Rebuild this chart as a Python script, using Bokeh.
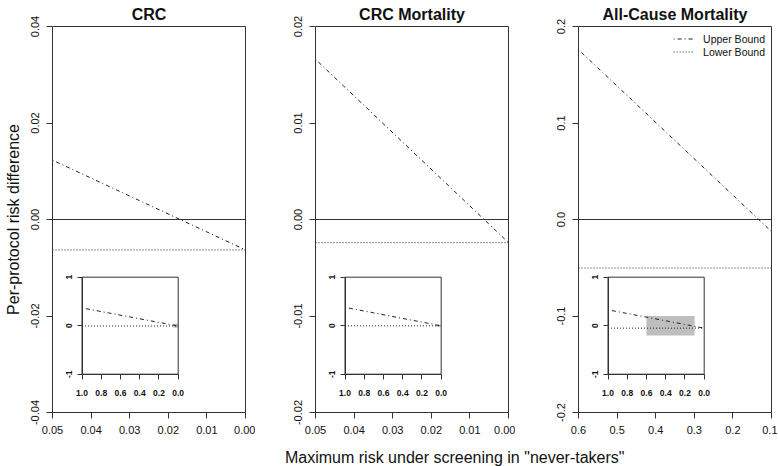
from bokeh.plotting import figure
from bokeh.models import (Range1d, LinearAxis, FixedTicker, NumeralTickFormatter,
                          Div, Legend, LegendItem, Span)
from bokeh.layouts import row, column
from bokeh.embed import file_html
from bokeh.resources import INLINE

# ---------------- data ----------------
panel_titles = ["CRC", "CRC Mortality", "All-Cause Mortality"]

x_limits = [[0.05, 0.0], [0.05, 0.0], [0.6, 0.1]]
y_limits = [[-0.04, 0.04], [-0.02, 0.02], [-0.2, 0.2]]

upper_x = [[0.05, 0.0], [0.05, 0.0], [0.6, 0.1]]
upper_y = [[0.0123, -0.0063], [0.0166, -0.0024], [0.176, -0.0125]]
lower_y = [-0.0063, -0.0024, -0.0503]

x_ticks = [[0.05, 0.04, 0.03, 0.02, 0.01, 0.0],
           [0.05, 0.04, 0.03, 0.02, 0.01, 0.0],
           [0.6, 0.5, 0.4, 0.3, 0.2, 0.1]]
x_tick_labels = [["0.05", "0.04", "0.03", "0.02", "0.01", "0.00"],
                 ["0.05", "0.04", "0.03", "0.02", "0.01", "0.00"],
                 ["0.6", "0.5", "0.4", "0.3", "0.2", "0.1"]]
y_ticks = [[-0.04, -0.02, 0.0, 0.02, 0.04],
           [-0.02, -0.01, 0.0, 0.01, 0.02],
           [-0.2, -0.1, 0.0, 0.1, 0.2]]
y_tick_labels = [["-0.04", "-0.02", "0.00", "0.02", "0.04"],
                 ["-0.02", "-0.01", "0.00", "0.01", "0.02"],
                 ["-0.2", "-0.1", "0.0", "0.1", "0.2"]]
tick_formats = ["0.00", "0.00", "0.0"]

# inset (full range view)
inset_x_limits = [1.0, 0.0]
inset_y_limits = [-1.0, 1.0]
inset_upper_x = [1.0, 0.0]
inset_upper_y = [[0.366, -0.0063], [0.378, -0.0024], [0.327, -0.0503]]
inset_x_ticks = [1.0, 0.8, 0.6, 0.4, 0.2, 0.0]
inset_x_tick_labels = ["1.0", "0.8", "0.6", "0.4", "0.2", "0.0"]
inset_y_ticks = [-1, 0, 1]
inset_y_tick_labels = ["-1", "0", "1"]
# zoom window shown in inset = main plot region
zoom_x = [[0.0, 0.05], [0.0, 0.05], [0.1, 0.6]]
zoom_y = y_limits

legend_labels = ["Upper Bound", "Lower Bound"]
x_title = 'Maximum risk under screening in "never-takers"'
y_title = "Per-protocol risk difference"

# ---------------- style / layout ----------------
FONT = "Liberation Sans"
INK = "#333333"
LINE_INK = "#222222"
FRAME_H = 386
frame_widths = [193, 193, 193]
border_left = [52, 60, 63]
border_right = [10, 7, 6]
INSET_LEFT, INSET_W = 29.5, 96.2      # px within frame
INSET_BOTTOM, INSET_H = 38.3, 97.0    # px from frame bottom
UPPER_DASH = "1 3 4 3"
LOWER_DASH = "1 2"


def extra_range(v0, v1, off, size, total):
    per = (v1 - v0) / size
    return Range1d(start=v0 - per * off, end=v0 + per * (total - off))


def style_axis(ax, fmt, ticks, labels, size, tick_out, standoff, bold=False):
    ax.ticker = FixedTicker(ticks=ticks)
    ax.formatter = NumeralTickFormatter(format=fmt)
    ax.major_label_overrides = {float(t): l for t, l in zip(ticks, labels)}
    ax.axis_line_color = INK
    ax.major_tick_line_color = INK
    ax.minor_tick_line_color = None
    ax.major_tick_in = 0
    ax.major_tick_out = tick_out
    ax.major_label_standoff = standoff
    ax.major_label_text_font = FONT
    ax.major_label_text_font_size = size
    ax.major_label_text_color = "#111111"
    if bold:
        ax.major_label_text_font_style = "bold"


figs = []
for i in range(3):
    fw = frame_widths[i]
    p = figure(frame_width=fw, frame_height=FRAME_H,
               x_range=Range1d(*x_limits[i]), y_range=Range1d(*y_limits[i]),
               output_backend="svg", toolbar_location=None,
               min_border_left=border_left[i], min_border_right=border_right[i],
               min_border_top=26, min_border_bottom=30)
    p.grid.visible = False
    p.outline_line_color = INK
    p.outline_line_width = 1
    p.background_fill_color = "white"
    p.border_fill_color = "white"

    p.title.text = panel_titles[i]
    p.title.align = "center"
    p.title.vertical_align = "top"
    p.title.text_font = FONT
    p.title.text_font_size = "16px"
    p.title.text_font_style = "bold"
    p.title.text_color = "#111111"
    p.title.standoff = 4

    style_axis(p.xaxis[0], tick_formats[i], x_ticks[i], x_tick_labels[i], "11px", 6, 7)
    style_axis(p.yaxis[0], tick_formats[i], y_ticks[i], y_tick_labels[i], "11px", 6, 8)
    p.yaxis[0].major_label_orientation = "vertical"
    if i == 0:
        p.yaxis[0].axis_label = y_title
        p.yaxis[0].axis_label_text_font = FONT
        p.yaxis[0].axis_label_text_font_size = "16px"
        p.yaxis[0].axis_label_text_font_style = "normal"
        p.yaxis[0].axis_label_text_color = "#111111"
        p.yaxis[0].axis_label_standoff = 6

    # zero reference line
    p.add_layout(Span(location=0, dimension="width", line_color=INK, line_width=1))

    # main bounds
    r_up = p.line(upper_x[i], upper_y[i], line_color=LINE_INK, line_width=1,
                  line_dash=UPPER_DASH)
    r_lo = p.line(x_limits[i], [lower_y[i], lower_y[i]], line_color=LINE_INK, line_width=1,
                  line_dash=LOWER_DASH)

    # inset ranges
    p.extra_x_ranges = {"ix": extra_range(inset_x_limits[0], inset_x_limits[1],
                                          INSET_LEFT, INSET_W, fw)}
    p.extra_y_ranges = {"iy": extra_range(inset_y_limits[0], inset_y_limits[1],
                                          INSET_BOTTOM, INSET_H, FRAME_H)}
    kw = dict(x_range_name="ix", y_range_name="iy")
    x0, x1 = inset_x_limits
    y0, y1 = inset_y_limits
    p.quad(left=min(x0, x1), right=max(x0, x1), bottom=y0, top=y1,
           fill_color="white", line_color=None, **kw)
    p.quad(left=zoom_x[i][0], right=zoom_x[i][1], bottom=zoom_y[i][0], top=zoom_y[i][1],
           fill_color="#bebebe", line_color=None, **kw)
    p.line(inset_upper_x, inset_upper_y[i], line_color=LINE_INK, line_width=1,
           line_dash=UPPER_DASH, **kw)
    p.line(list(inset_x_limits), [lower_y[i], lower_y[i]], line_color=LINE_INK, line_width=1,
           line_dash=LOWER_DASH, **kw)
    # inset box
    p.line([x0, x1, x1, x0, x0], [y0, y0, y1, y1, y0], line_color=INK, line_width=1, **kw)

    ax_ix = LinearAxis(x_range_name="ix", y_range_name="iy",
                       fixed_location=y0, bounds=(min(x0, x1), max(x0, x1)))
    style_axis(ax_ix, "0.0", inset_x_ticks, inset_x_tick_labels, "8.5px", 5, 11, bold=True)
    p.add_layout(ax_ix, "below")
    ax_iy = LinearAxis(x_range_name="ix", y_range_name="iy",
                       fixed_location=x0, bounds=(y0, y1))
    style_axis(ax_iy, "0", inset_y_ticks, inset_y_tick_labels, "8.5px", 5, 5, bold=True)
    ax_iy.major_label_orientation = "vertical"
    p.add_layout(ax_iy, "left")

    if i == 2:
        legend = Legend(items=[LegendItem(label=legend_labels[0], renderers=[r_up]),
                               LegendItem(label=legend_labels[1], renderers=[r_lo])],
                        location="top_right", border_line_color=None,
                        background_fill_alpha=0, label_text_font=FONT,
                        label_text_font_size="10.5px", label_text_color="#111111",
                        glyph_width=20, glyph_height=13, label_height=13,
                        label_standoff=10, spacing=0, padding=4, margin=6)
        p.add_layout(legend)
    figs.append(p)

xlab = Div(text='<div style="font-family:\'Liberation Sans\';font-size:16px;'
                'color:#111111;padding-left:280px;white-space:nowrap;line-height:22px">'
                + x_title + '</div>', width=777, height=22)

layout = column(row(*figs), xlab)
open("out.html", "w").write(file_html(layout, INLINE))
